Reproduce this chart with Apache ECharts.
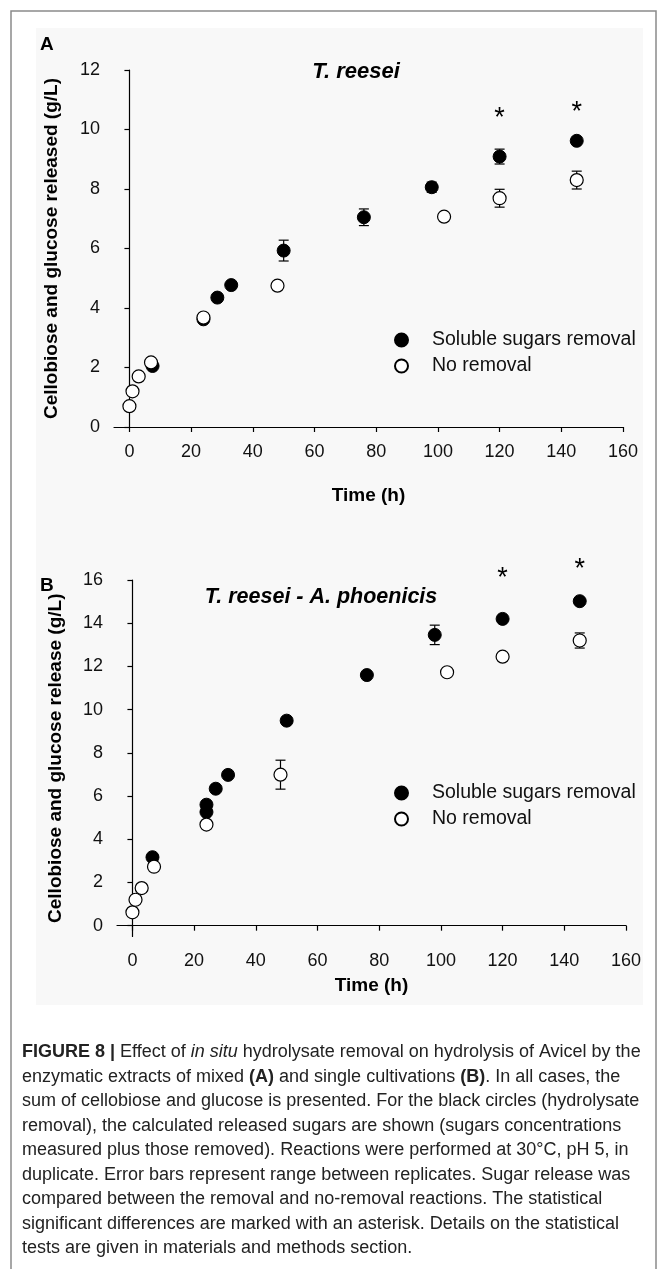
<!DOCTYPE html>
<html>
<head>
<meta charset="utf-8">
<script src="https://cdn.jsdelivr.net/npm/echarts@6/dist/echarts.min.js"></script>
<style>
html,body{margin:0;padding:0;background:#fff;}
#chart{width:667px;height:1269px;}
</style>
</head>
<body>
<div id="chart"></div>
<script>
// ---------- data ----------
const xTicks = [0, 20, 40, 60, 80, 100, 120, 140, 160];
const yTicksA = [0, 2, 4, 6, 8, 10, 12];
const yTicksB = [0, 2, 4, 6, 8, 10, 12, 14, 16];

// Panel A: T. reesei
const timeA_removal = [7.5, 24, 28.5, 33, 50, 76, 98, 120, 145];
const sugarA_removal = [2.05, 3.62, 4.35, 4.77, 5.93, 7.05, 8.06, 9.09, 9.62];
const errA_removal = [0, 0, 0, 0, 0.35, 0.28, 0.17, 0.25, 0];
const timeA_none = [0, 1, 3, 7, 24, 48, 102, 120, 145];
const sugarA_none = [0.7, 1.2, 1.7, 2.17, 3.68, 4.75, 7.07, 7.69, 8.3];
const errA_none = [0, 0, 0, 0, 0, 0, 0, 0.3, 0.3];
const starA_time = [120, 145];
const starA_y = [10.55, 10.75];

// Panel B: T. reesei - A. phoenicis
const timeB_removal = [6.5, 24, 24, 27, 31, 50, 76, 98, 120, 145];
const sugarB_removal = [3.17, 5.26, 5.6, 6.34, 6.98, 9.49, 11.6, 13.46, 14.2, 15.02];
const errB_removal = [0, 0, 0, 0, 0, 0, 0, 0.45, 0, 0];
const timeB_none = [0, 1, 3, 7, 24, 48, 102, 120, 145];
const sugarB_none = [0.62, 1.2, 1.74, 2.73, 4.68, 6.99, 11.73, 12.45, 13.2];
const errB_none = [0, 0, 0, 0, 0, 0.67, 0, 0, 0.35];
const starB_time = [120, 145];
const starB_y = [16.3, 16.7];

const NAME_REM = 'Soluble sugars removal';
const NAME_NONE = 'No removal';

// ---------- helpers ----------
const pts = (t, v) => t.map((x, i) => [x, v[i]]);
const errs = (t, v, e) => t.map((x, i) => [x, v[i] - e[i], v[i] + e[i]]).filter((d, i) => e[i] > 0);

const FONT = '"Liberation Sans", Arial, Helvetica, sans-serif';

function errorSeries(idx, data) {
  return {
    type: 'custom', xAxisIndex: idx, yAxisIndex: idx, silent: true, z: 1,
    data: data,
    renderItem: function (params, api) {
      const x = api.value(0);
      const lo = api.coord([x, api.value(1)]);
      const hi = api.coord([x, api.value(2)]);
      const w = 5;
      const st = { stroke: '#000', lineWidth: 1.2 };
      return {
        type: 'group',
        children: [
          { type: 'line', shape: { x1: lo[0], y1: lo[1], x2: hi[0], y2: hi[1] }, style: st },
          { type: 'line', shape: { x1: lo[0] - w, y1: lo[1], x2: lo[0] + w, y2: lo[1] }, style: st },
          { type: 'line', shape: { x1: hi[0] - w, y1: hi[1], x2: hi[0] + w, y2: hi[1] }, style: st }
        ]
      };
    }
  };
}

function starSeries(idx, data) {
  return {
    type: 'custom', xAxisIndex: idx, yAxisIndex: idx, silent: true, z: 5, clip: false,
    data: data,
    renderItem: function (params, api) {
      const p = api.coord([api.value(0), api.value(1)]);
      return {
        type: 'text',
        style: { text: '*', x: p[0], y: p[1] + 5, textAlign: 'center', textVerticalAlign: 'middle',
                 font: '27px ' + FONT, fill: '#000' }
      };
    }
  };
}

function xAxis(idx, gap) {
  return {
    gridIndex: idx, type: 'value', min: -5, max: 160,
    name: 'Time (h)', nameLocation: 'middle', nameGap: gap,
    nameTextStyle: { fontFamily: FONT, fontSize: 19, fontWeight: 'bold', color: '#000' },
    axisLine: { lineStyle: { color: '#000', width: 1.2 } },
    axisTick: { show: true, inside: false, length: 5, customValues: xTicks, lineStyle: { color: '#000', width: 1.2 } },
    axisLabel: { customValues: xTicks, margin: 16, fontFamily: FONT, fontSize: 18, color: '#111' },
    splitLine: { show: false }
  };
}

function yAxis(idx, min, max, ticks, name, gap) {
  return {
    gridIndex: idx, type: 'value', min: min, max: max,
    name: name, nameLocation: 'middle', nameRotate: 90, nameGap: gap,
    nameTextStyle: { fontFamily: FONT, fontSize: 19, fontWeight: 'bold', color: '#000' },
    axisLine: { lineStyle: { color: '#000', width: 1.2 } },
    axisTick: { show: true, inside: false, length: 5, customValues: ticks, lineStyle: { color: '#000', width: 1.2 } },
    axisLabel: { customValues: ticks, margin: 14, fontFamily: FONT, fontSize: 18, color: '#111' },
    splitLine: { show: false }
  };
}

const filledStyle = { color: '#000', borderColor: '#000', borderWidth: 1, opacity: 1 };
const openStyle = { color: '#fff', borderColor: '#000', borderWidth: 1.2, opacity: 1 };

function scatter(idx, name, data, style) {
  return {
    type: 'scatter', name: name, xAxisIndex: idx, yAxisIndex: idx, z: 3,
    symbol: 'circle', symbolSize: 13, data: data, itemStyle: style
  };
}

function legend(top) {
  return {
    orient: 'vertical', left: 389, top: top, itemWidth: 13, itemHeight: 13, itemGap: 6,
    data: [NAME_REM, NAME_NONE], selectedMode: false,
    textStyle: { fontFamily: FONT, fontSize: 19.5, color: '#111', padding: [0, 0, 0, 19] }
  };
}

const caption =
  '{b|FIGURE 8 |} Effect of {i|in situ} hydrolysate removal on hydrolysis of Avicel by the\n' +
  'enzymatic extracts of mixed {b|(A)} and single cultivations {b|(B)}. In all cases, the\n' +
  'sum of cellobiose and glucose is presented. For the black circles (hydrolysate\n' +
  'removal), the calculated released sugars are shown (sugars concentrations\n' +
  'measured plus those removed). Reactions were performed at 30°C, pH 5, in\n' +
  'duplicate. Error bars represent range between replicates. Sugar release was\n' +
  'compared between the removal and no-removal reactions. The statistical\n' +
  'significant differences are marked with an asterisk. Details on the statistical\n' +
  'tests are given in materials and methods section.';

const CAP = 18;
const chart = echarts.init(document.getElementById('chart'), null, { renderer: 'canvas' });
chart.setOption({
  animation: false,
  backgroundColor: '#fff',
  grid: [
    { left: 114, top: 70, width: 509, height: 357 },
    { left: 117, top: 580, width: 509, height: 356.5 }
  ],
  xAxis: [xAxis(0, 59), xAxis(1, 40)],
  yAxis: [
    yAxis(0, 0, 12, yTicksA, 'Cellobiose and glucose released (g/L)', 53),
    yAxis(1, -0.5, 16, yTicksB, 'Cellobiose and glucose release (g/L)', 52)
  ],
  legend: [legend(325), legend(778)],
  series: [
    errorSeries(0, errs(timeA_removal, sugarA_removal, errA_removal)),
    errorSeries(0, errs(timeA_none, sugarA_none, errA_none)),
    scatter(0, NAME_REM, pts(timeA_removal, sugarA_removal), filledStyle),
    scatter(0, NAME_NONE, pts(timeA_none, sugarA_none), openStyle),
    starSeries(0, pts(starA_time, starA_y)),
    errorSeries(1, errs(timeB_removal, sugarB_removal, errB_removal)),
    errorSeries(1, errs(timeB_none, sugarB_none, errB_none)),
    scatter(1, NAME_REM, pts(timeB_removal, sugarB_removal), filledStyle),
    scatter(1, NAME_NONE, pts(timeB_none, sugarB_none), openStyle),
    starSeries(1, pts(starB_time, starB_y))
  ],
  graphic: [
    { type: 'rect', z: -10, silent: true, shape: { x: 11, y: 11, width: 645, height: 1270 },
      style: { fill: '#fff', stroke: '#8a8a8a', lineWidth: 1.5 } },
    { type: 'rect', z: -9, silent: true, shape: { x: 36, y: 28, width: 607, height: 977 },
      style: { fill: '#f8f8f8' } },
    { type: 'text', left: 40, top: 35, z: 10, style: { text: 'A', font: 'bold 19px ' + FONT, fill: '#000' } },
    { type: 'text', left: 40, top: 576, z: 10, style: { text: 'B', font: 'bold 19px ' + FONT, fill: '#000' } },
    { type: 'text', x: 356, y: 72, z: 10, style: { text: 'T. reesei', textAlign: 'center', textVerticalAlign: 'middle', font: 'italic bold 22px ' + FONT, fill: '#000' } },
    { type: 'text', x: 321, y: 597, z: 10, style: { text: 'T. reesei - A. phoenicis', textAlign: 'center', textVerticalAlign: 'middle', font: 'italic bold 21.5px ' + FONT, fill: '#000' } },
    { type: 'text', x: 22, y: 1040, z: 10,
      style: {
        text: caption, font: CAP + 'px ' + FONT, fill: '#222', lineHeight: 24.5,
        rich: {
          b: { fontWeight: 'bold', fontSize: CAP, fontFamily: FONT, lineHeight: 24.5, fill: '#222' },
          i: { fontStyle: 'italic', fontSize: CAP, fontFamily: FONT, lineHeight: 24.5, fill: '#222' }
        }
      } }
  ]
});
</script>
</body>
</html>
